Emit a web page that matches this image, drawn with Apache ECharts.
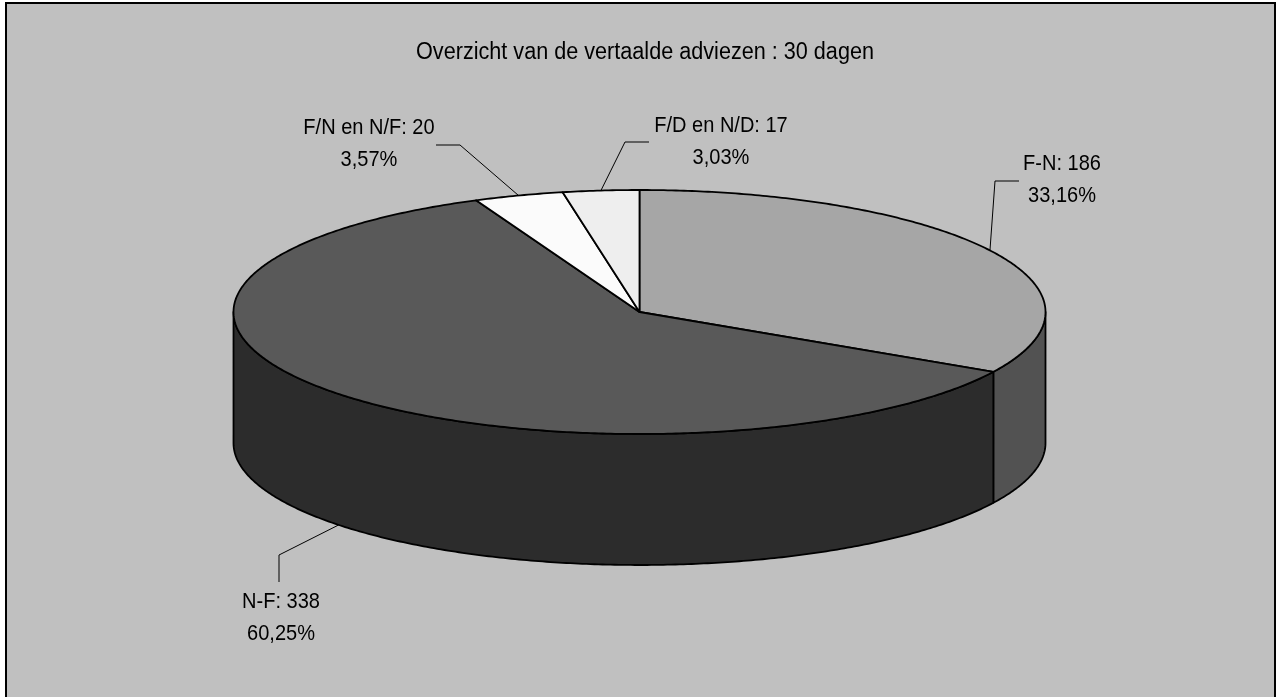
<!DOCTYPE html>
<html>
<head>
<meta charset="utf-8">
<style>html,body{margin:0;padding:0;background:#fff}#c{width:1282px;height:697px}</style>
<script src="https://cdn.jsdelivr.net/npm/echarts@6/dist/echarts.min.js"></script>
</head>
<body>
<div id="c"></div>
<script>
const titleText = 'Overzicht van de vertaalde adviezen : 30 dagen';
const categories = ['F-N', 'N-F', 'F/N en N/F', 'F/D en N/D'];
const values = [186, 338, 20, 17];
const topColors = ['#A6A6A6', '#595959', '#FBFBFB', '#EEEEEE'];
const sideColors = ['#525252', '#2C2C2C', '#808080', '#787878'];
// label placement: elbow and end of each leader line, and label centre
const leaderElbows = [[995, 181], [279, 555], [460, 145], [625, 142]];
const leaderEnds = [[1019, 181], [279, 582], [436, 145], [649, 142]];
const labelCentres = [[1062, 179.5], [281, 618], [369, 144], [721, 141.5]];

const cx = 639.5, cy = 312, rx = 406, ry = 122, depth = 131;
const total = values.reduce((a, b) => a + b, 0);
const LABEL_FONT = '22px "Liberation Sans", Arial, sans-serif';
const TITLE_FONT = '23px "Liberation Sans", Arial, sans-serif';

function pt(theta, dy) {
  return [cx + rx * Math.sin(theta), cy - ry * Math.cos(theta) + (dy || 0)];
}
function arc(a, b, dy) {
  const n = Math.max(2, Math.ceil(Math.abs(b - a) / 0.01));
  const out = [];
  for (let i = 0; i <= n; i++) out.push(pt(a + (b - a) * i / n, dy));
  return out;
}

function renderItem(params, api) {
  const i = params.dataIndex;
  const v = api.value(0);
  let before = 0;
  for (let k = 0; k < i; k++) before += values[k];
  const a = before / total * 2 * Math.PI;
  const b = (before + v) / total * 2 * Math.PI;
  const mid = (a + b) / 2;
  const children = [];
  const line = { stroke: '#000', lineWidth: 1.8, lineJoin: 'round' };

  // visible wall: the front half of the rim, theta between 90 and 270 degrees
  const lo = Math.max(a, Math.PI / 2), hi = Math.min(b, Math.PI * 1.5);
  if (hi > lo) {
    const pts = arc(lo, hi, 0).concat(arc(hi, lo, depth));
    children.push({
      type: 'polygon', shape: { points: pts }, z2: 1,
      style: Object.assign({ fill: sideColors[i] }, line)
    });
  }
  // top face
  children.push({
    type: 'polygon', shape: { points: [[cx, cy]].concat(arc(a, b, 0)) }, z2: 2,
    style: Object.assign({ fill: topColors[i] }, line)
  });
  // leader line: starts on the rim at the slice's mid angle
  const onFront = Math.cos(mid) < 0;
  const start = pt(mid, onFront ? depth : 0);
  children.push({
    type: 'polyline', shape: { points: [start, leaderElbows[i], leaderEnds[i]] }, z2: 3,
    style: { stroke: '#000', lineWidth: 1, fill: null }
  });
  // label
  const pct = (v / total * 100).toFixed(2).replace('.', ',') + '%';
  children.push({
    type: 'text', z2: 4,
    x: labelCentres[i][0], y: labelCentres[i][1], scaleX: 0.91,
    style: {
      text: categories[i] + ': ' + v + '\n' + pct,
      x: 0, y: 0,
      align: 'center', verticalAlign: 'middle',
      font: LABEL_FONT, lineHeight: 32, fill: '#000'
    }
  });
  return { type: 'group', children };
}

const chart = echarts.init(document.getElementById('c'), null, { renderer: 'canvas' });
chart.setOption({
  animation: false,
  backgroundColor: '#FFFFFF',
  graphic: [
    { type: 'rect', z: -2, silent: true, shape: { x: 6, y: 3, width: 1269, height: 700 },
      style: { fill: '#C0C0C0', stroke: '#000', lineWidth: 2 } },
    { type: 'text', z: 5, silent: true, x: 645, y: 53, scaleX: 0.94,
      style: { text: titleText, x: 0, y: 0, align: 'center', verticalAlign: 'middle', font: TITLE_FONT, fill: '#000' } }
  ],
  series: [{
    type: 'custom',
    coordinateSystem: 'none',
    silent: true,
    renderItem,
    data: values.map((v, i) => ({ name: categories[i], value: [v] }))
  }]
});
</script>
</body>
</html>
